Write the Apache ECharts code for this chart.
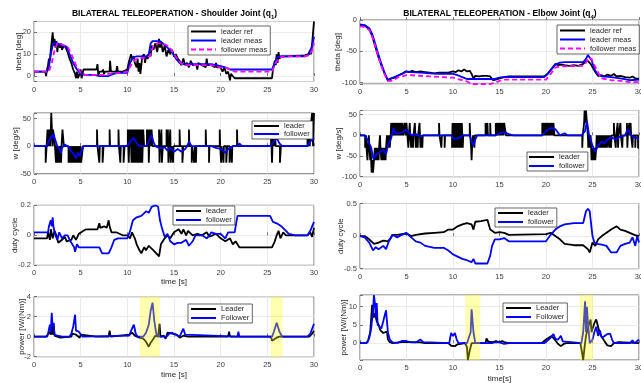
<!DOCTYPE html>
<html><head><meta charset="utf-8">
<script src="https://cdn.jsdelivr.net/npm/echarts@6/dist/echarts.min.js"></script>
<style>html,body{margin:0;padding:0;background:#fff}#c{width:641px;height:383px}</style>
</head><body><div id="c"></div><script>
// ---------- DATA ----------
const timeTicks = [0, 5, 10, 15, 20, 25, 30];
// Shoulder theta [deg]
const thL_ref = [[0,2],[1.2,2],[1.3,0],[1.35,2],[1.5,5],[1.6,8],[1.7,7],[1.8,12],[1.9,16],[2.0,20],[2.1,14],[2.2,17],[2.3,13],[2.4,16],[2.5,11],[2.6,15],[2.8,13],[2.9,15],[3.0,12],[3.2,14],[3.4,13],[3.6,11],[3.8,8],[4.0,6],[4.2,3],[4.4,1],[4.5,-1],[4.6,2],[4.7,-1],[4.8,0],[5.0,3],[5.1,-1],[5.3,3],[6.7,3],[6.8,5.5],[6.9,0],[7.0,2],[7.3,2],[7.4,3],[7.5,1],[7.6,2],[8.1,2],[8.15,7],[8.25,2],[8.8,2],[8.9,4.5],[9.0,2],[9.5,2],[10.0,3],[10.2,7],[10.4,10],[10.5,8],[10.7,9],[10.8,6],[11.0,4],[11.1,8],[11.2,2],[11.3,6],[11.4,1],[11.5,5],[11.6,9],[11.8,10],[11.9,6],[12.0,9],[12.2,8],[12.4,11],[12.5,9],[12.6,14],[12.8,12],[13.0,15],[13.2,11],[13.4,17],[13.5,13],[13.6,16],[13.8,11],[14.0,14],[14.2,9],[14.4,12],[14.6,10],[14.8,12],[15.0,9],[15.2,10],[15.4,8],[15.6,7],[15.8,5],[16.0,8],[16.2,5],[16.4,6],[16.6,4],[16.8,7],[17.0,5],[17.4,5],[17.5,3],[17.6,6],[18.0,5],[18.4,4],[18.5,8],[18.6,5],[19.0,5],[19.4,4],[19.5,6],[19.6,4],[20.0,4],[20.2,2],[20.4,4],[20.6,1],[20.8,2],[21.0,-2],[21.1,1],[21.5,-1],[25.5,-1],[25.6,3],[25.8,7],[25.9,5],[26.0,10],[26.1,6],[26.2,11],[26.3,8],[26.5,9],[27,9],[29,9.5],[29.4,10],[29.6,12],[29.7,10],[29.8,15],[29.9,20],[30,25]];
const thL_lm = [[0,2],[1.4,2],[1.6,4],[1.8,10],[2.0,14],[2.2,15.5],[2.5,15],[3.0,14],[3.5,13.5],[3.8,10],[4.2,6],[4.6,3],[5.0,1],[5.5,0.5],[6.5,0.5],[7,0],[8,0],[8.5,1],[9,1.5],[10,1.5],[10.3,6],[10.6,8.5],[11,9],[12,9],[12.3,10],[12.5,15],[12.7,16],[13.5,16],[13.8,15],[14.2,13.5],[14.8,11],[15.2,8],[15.6,6],[16,5.5],[19,5.5],[20,4.5],[20.5,4],[21,3],[25.5,3],[25.8,6],[26,8.5],[26.3,9],[29,9],[29.5,10],[29.8,14],[30,18]];
const thL_fm = [[0,2],[1.6,2],[1.9,6],[2.2,12],[2.5,15],[3,14.5],[3.6,13.5],[4,10],[4.5,5],[5,1.5],[5.5,0.5],[7.5,0.5],[8,1],[9.5,1.5],[10,2],[10.4,5],[10.8,7.5],[11.2,8],[12,8.5],[12.4,9],[12.8,14],[13.2,15],[13.8,15],[14.5,13.5],[15,10],[15.5,7],[16,5],[19,5],[20,4],[20.8,3.5],[21.5,2],[25.5,2],[25.9,6],[26.3,8.5],[27,9],[29,9],[29.5,9.5],[29.8,12],[30,15]];
// Elbow theta [deg]
const thR_ref = [[0,-8],[0.5,-9],[1.0,-15],[1.3,-25],[1.5,-35],[1.8,-50],[2.0,-60],[2.3,-72],[2.5,-80],[2.8,-90],[3.0,-97],[3.1,-100],[3.2,-95],[3.4,-93],[3.6,-91],[3.8,-92],[4.0,-89],[4.3,-87],[4.6,-85],[4.9,-82],[5.0,-80],[5.3,-83],[5.6,-81],[6.0,-83],[6.5,-82],[7.0,-83],[7.5,-84],[8.0,-85],[8.5,-84],[9.5,-84],[10.0,-82],[10.3,-83],[10.6,-80],[10.9,-82],[11.2,-79],[11.5,-82],[11.8,-81],[12.0,-86],[12.2,-93],[12.4,-89],[12.8,-90],[13.2,-89],[13.6,-89],[14.0,-90],[14.3,-96],[14.6,-95],[15.0,-93],[15.5,-91],[16.0,-90],[19.8,-90],[20.2,-85],[20.6,-78],[21.0,-70],[21.3,-72],[21.6,-71],[22,-72],[22.5,-73],[23,-72],[23.5,-73],[24.0,-70],[24.2,-68],[24.4,-64],[24.6,-66],[24.8,-70],[25.0,-72],[25.3,-83],[25.6,-89],[26.0,-88],[26.3,-90],[26.6,-87],[27.0,-89],[27.3,-86],[27.6,-90],[28.0,-89],[28.5,-91],[29.0,-92],[29.3,-90],[29.6,-93],[30,-94]];
const thR_lm = [[0,-7],[0.5,-8],[1.0,-13],[1.3,-22],[1.5,-31],[1.8,-46],[2.0,-56],[2.3,-70],[2.5,-78],[2.8,-90],[3.0,-95],[3.2,-97],[3.5,-92],[4.0,-89],[4.5,-86],[5.0,-82],[5.5,-83],[6.5,-84],[7.5,-85],[8.5,-86],[10.0,-86],[10.5,-88],[11.0,-91],[11.5,-94],[14.5,-94],[15.0,-92],[15.5,-91],[19.8,-91],[20.2,-86],[20.6,-78],[21.0,-71],[21.5,-68],[22.0,-67],[24.0,-67],[24.3,-62],[24.5,-56],[24.7,-58],[24.9,-64],[25.2,-78],[25.5,-86],[26.0,-90],[27.0,-91],[28.0,-93],[29.0,-96],[30,-95]];
const thR_fm = [[0,-10],[0.5,-11],[1.0,-16],[1.3,-26],[1.5,-35],[1.8,-50],[2.0,-60],[2.3,-74],[2.5,-82],[2.8,-92],[3.0,-97],[3.5,-97],[4.0,-92],[4.5,-90],[5.0,-88],[5.5,-88],[7.5,-90],[10.0,-92],[11.0,-96],[11.5,-98],[12.0,-102],[14.0,-102],[14.5,-100],[15.0,-97],[15.5,-95],[20.0,-95],[20.5,-86],[21.0,-76],[21.5,-74],[24.0,-73],[24.3,-68],[24.6,-60],[24.9,-62],[25.2,-72],[25.7,-86],[26.0,-93],[27.0,-96],[28.0,-97],[29.0,-99],[30,-99]];
// Shoulder w [deg/s] (leader is a held/step signal)
const wL_lead = [[0,0],[1.25,-30],[1.35,0],[1.45,30],[1.55,0],[1.6,30],[1.75,0],[1.8,30],[1.85,60],[1.92,30],[2.0,0],[2.05,30],[2.25,0],[2.35,-30],[2.45,0],[2.55,-30],[2.6,0],[2.7,-30],[2.8,0],[2.9,-30],[2.95,0],[3.05,30],[3.2,0],[3.7,-30],[3.8,0],[3.9,-30],[3.95,0],[4.0,-30],[4.1,0],[4.15,-30],[4.25,0],[4.3,-30],[4.4,0],[4.45,-30],[4.55,0],[4.6,-30],[4.7,0],[4.75,-30],[4.85,0],[4.9,-30],[5.0,0],[5.05,-30],[5.25,0],[6.75,30],[6.8,0],[7.0,-30],[7.05,0],[7.35,-30],[7.45,0],[8.1,30],[8.15,0],[9.05,30],[9.1,0],[9.25,-30],[9.3,0],[9.6,-30],[9.7,0],[10.05,30],[10.15,-30],[10.25,30],[10.3,0],[10.35,30],[10.45,-30],[10.55,30],[10.65,-30],[10.75,30],[10.85,-30],[10.95,30],[11.05,-30],[11.1,30],[11.2,-30],[11.3,30],[11.4,-30],[11.5,30],[11.6,-30],[11.7,30],[11.8,0],[12.1,30],[12.15,0],[12.25,30],[12.3,-30],[12.4,30],[12.5,0],[12.6,30],[12.7,0],[13.4,30],[13.45,-30],[13.5,0],[13.65,30],[13.7,-30],[13.8,0],[14.2,30],[14.25,0],[14.35,30],[14.4,-30],[14.5,0],[14.6,30],[14.65,-30],[14.75,0],[14.9,-30],[14.95,0],[15.6,30],[15.65,0],[15.9,-30],[16.0,0],[16.6,30],[16.65,0],[16.9,-30],[16.95,0],[17.15,-30],[17.25,0],[17.35,-30],[17.4,0],[18.4,30],[18.45,0],[18.75,-30],[18.8,0],[19.9,30],[19.95,0],[20.05,-30],[20.1,0],[20.3,-30],[20.35,0],[20.6,-30],[20.7,0],[20.95,-30],[21.0,0],[21.2,-30],[21.25,0],[21.75,30],[21.8,0],[25.4,30],[25.5,-30],[25.6,30],[25.7,0],[25.8,30],[25.9,0],[26.35,-30],[26.45,0],[29.3,30],[29.35,0],[29.45,30],[29.55,0],[29.6,30],[29.8,60],[29.85,30],[29.9,0],[29.95,30],[30,60]];
const wL_fol = [[0,0],[1.4,0],[1.6,10],[1.8,15],[1.9,20],[2.0,14],[2.1,22],[2.3,10],[2.5,0],[2.7,-5],[2.9,-12],[3.0,-3],[3.3,3],[3.5,0],[3.8,-3],[4.0,-10],[4.3,-15],[4.5,-22],[4.7,-12],[4.9,-18],[5.1,-8],[5.3,0],[8.1,0],[8.3,3],[8.5,0],[9.4,0],[9.6,3],[9.8,0],[10.1,2],[10.3,8],[10.7,15],[11.0,5],[11.3,0],[12.0,0],[12.2,5],[12.6,20],[12.8,8],[13.0,0],[13.5,-4],[14.0,-2],[14.3,-8],[14.6,-3],[15.0,-10],[15.4,-5],[15.8,-10],[16.2,-5],[16.4,0],[16.6,8],[16.9,0],[18.4,0],[18.6,3],[19.0,0],[19.5,-3],[20.0,-5],[20.5,-12],[20.8,-5],[21.3,0],[21.8,0],[22.0,5],[22.3,0],[25.3,0],[25.7,8],[26.0,15],[26.3,5],[26.6,0],[29.3,0],[29.6,8],[30,15]];
// Elbow w [deg/s]
const wR_lead = [[0,0],[0.55,-30],[0.65,0],[0.7,-30],[0.8,-60],[0.85,-30],[0.95,0],[1.0,-30],[1.1,-60],[1.15,-30],[1.25,-90],[1.35,-60],[1.4,-90],[1.5,-60],[1.6,-30],[1.7,-60],[1.75,-30],[1.85,-60],[1.9,-30],[2.0,-60],[2.05,-30],[2.15,0],[2.2,-30],[2.3,-60],[2.35,-30],[2.45,-60],[2.5,-30],[2.6,-60],[2.65,-30],[2.75,-60],[2.8,-30],[2.9,0],[3.0,-30],[3.1,0],[3.2,-30],[3.3,0],[3.35,30],[3.45,0],[3.5,30],[3.6,0],[3.65,30],[3.75,0],[3.8,30],[3.9,0],[3.95,30],[4.05,0],[4.1,30],[4.2,0],[4.25,30],[4.35,0],[4.4,30],[4.5,0],[4.55,30],[4.65,0],[4.8,30],[4.9,0],[5.0,30],[5.1,0],[5.2,-30],[5.25,0],[5.35,30],[5.4,0],[5.5,-30],[5.55,0],[5.7,-30],[5.75,0],[5.9,30],[5.95,0],[6.0,-30],[6.05,0],[6.2,-30],[6.25,0],[6.4,30],[6.45,0],[6.5,-30],[6.55,0],[6.7,-30],[6.75,0],[8.5,30],[8.55,0],[8.75,-30],[8.8,0],[9.1,-30],[9.15,0],[9.9,-30],[9.95,30],[10.05,-30],[10.15,30],[10.25,-30],[10.35,30],[10.45,-30],[10.55,30],[10.65,-30],[10.75,30],[10.85,-30],[10.95,30],[11.05,-30],[11.1,0],[11.8,30],[11.85,0],[11.95,-30],[12.0,-60],[12.05,-30],[12.15,0],[12.3,-30],[12.35,0],[13.5,30],[13.55,0],[13.7,30],[13.75,0],[14.0,30],[14.05,0],[14.6,30],[14.7,0],[14.75,30],[14.85,0],[14.9,30],[15.0,0],[15.05,30],[15.15,0],[15.2,30],[15.3,0],[15.35,30],[15.45,0],[15.5,30],[15.7,0],[19.6,30],[19.7,0],[19.75,30],[19.85,0],[19.9,30],[20.0,0],[20.05,30],[20.15,0],[20.2,30],[20.3,0],[20.35,30],[20.45,0],[20.5,30],[20.6,0],[20.65,30],[20.75,0],[20.8,30],[20.9,0],[23.9,-30],[23.95,0],[24.1,30],[24.15,60],[24.25,30],[24.3,60],[24.4,30],[24.5,0],[24.55,-30],[24.6,0],[24.7,-30],[24.8,0],[24.85,-30],[24.9,-60],[25.0,-30],[25.1,-60],[25.2,-30],[25.3,-60],[25.4,-30],[25.45,0],[25.6,-30],[25.65,0],[25.75,-30],[25.85,0],[25.95,-30],[26.05,0],[26.15,-30],[26.25,0],[26.35,-30],[26.45,0],[26.55,-30],[26.65,0],[26.8,-30],[26.85,0],[27.0,-30],[27.05,0],[27.3,30],[27.35,0],[27.5,-30],[27.55,0],[27.7,30],[27.75,-30],[27.8,0],[28.0,30],[28.05,0],[28.2,-30],[28.25,0],[28.7,30],[28.75,-30],[28.8,0],[28.95,30],[29.0,0],[29.1,30],[29.15,0],[29.3,-30],[29.35,0],[29.6,-30],[29.65,0],[29.9,-30],[30,-30]];
const wR_fol = [[0,0],[0.5,0],[0.8,-10],[1.2,-30],[1.45,-58],[1.8,-45],[2.2,-40],[2.5,-35],[2.8,-45],[3.0,-25],[3.3,-10],[3.5,5],[3.6,18],[3.8,5],[4.2,5],[4.6,8],[5.0,14],[5.3,5],[5.6,0],[6.0,3],[6.5,-3],[6.8,0],[9.8,0],[10.0,-8],[10.4,-8],[10.8,-5],[11.0,0],[11.8,0],[12.0,-15],[12.2,-25],[12.4,-10],[12.6,0],[14.6,0],[15.0,5],[15.5,8],[16.0,3],[16.5,0],[19.6,0],[20.0,10],[20.5,18],[21.0,15],[21.5,0],[22.0,5],[22.3,0],[23.8,0],[24.2,10],[24.4,35],[24.6,5],[24.8,-10],[25.0,-25],[25.3,-40],[25.6,-25],[26.0,-15],[26.3,-20],[26.6,-10],[27.0,-5],[27.5,-10],[28.0,-3],[28.5,0],[28.8,15],[29.1,0],[29.5,-5],[30,-8]];
// Shoulder duty cycle
const dL_lead = [[0,-0.02],[1.4,-0.02],[1.5,0.02],[1.7,-0.03],[1.8,0.04],[2.0,-0.02],[2.2,0.03],[2.4,0.0],[2.6,-0.05],[3.0,-0.03],[3.3,-0.01],[3.5,-0.04],[4.0,-0.03],[4.2,0.0],[4.5,-0.03],[4.8,0.01],[5.0,0.02],[5.3,0.03],[5.6,0.04],[6.8,0.04],[7.0,0.08],[7.1,0.05],[7.5,0.06],[7.8,0.05],[8.0,0.1],[8.1,0.06],[8.3,0.02],[8.8,0.02],[9.0,0.01],[9.5,0.0],[10,0.0],[10.3,-0.02],[10.5,0.02],[10.8,-0.02],[11,-0.06],[11.3,-0.1],[11.5,-0.12],[11.8,-0.08],[12,-0.1],[12.3,-0.07],[12.5,-0.08],[12.8,-0.1],[13.1,-0.12],[13.4,-0.14],[13.6,-0.06],[14,-0.02],[14.3,0.0],[14.6,-0.02],[15,0.02],[15.5,0.04],[15.8,0.01],[16,0.04],[16.3,0.0],[16.5,0.03],[17,0.0],[17.5,0.01],[18,0.0],[18.5,0.02],[18.8,-0.01],[19,0.0],[19.5,0.01],[20,-0.02],[20.5,-0.04],[21,-0.02],[21.3,-0.06],[21.6,-0.04],[22,-0.08],[25.5,-0.08],[25.8,-0.04],[26,0.0],[26.2,0.03],[26.4,-0.02],[26.7,0.02],[27,0.0],[29.3,0.0],[29.6,0.02],[29.8,-0.01],[30,0.05]];
const dL_fol = [[0,0.02],[1.5,0.02],[1.6,0.06],[1.8,0.1],[1.9,0.06],[2.0,0.12],[2.1,0.05],[2.3,0.0],[2.5,-0.03],[2.7,0.02],[3,-0.02],[3.3,0.0],[3.6,0.0],[3.9,-0.04],[4.1,-0.06],[4.3,-0.08],[4.4,-0.11],[4.6,-0.06],[4.8,-0.08],[5.0,-0.07],[5.2,-0.08],[7.0,-0.08],[7.3,-0.12],[8.0,-0.12],[8.3,-0.08],[8.6,-0.03],[9,-0.02],[10,-0.02],[10.3,0.03],[10.6,0.1],[11,0.12],[11.5,0.13],[12,0.16],[12.3,0.15],[12.6,0.19],[13,0.2],[13.3,0.19],[13.5,0.1],[13.7,0.05],[14.0,-0.01],[14.3,0.01],[14.6,-0.04],[15,-0.06],[15.4,-0.05],[15.8,-0.05],[16.3,-0.03],[16.6,-0.07],[17,-0.04],[17.3,0.0],[18,0.0],[18.5,-0.02],[18.8,0.0],[19,0.02],[19.5,0.01],[20,0.01],[20.5,-0.02],[20.8,0.02],[21.5,0.02],[21.8,0.13],[25.3,0.13],[25.6,0.09],[26,0.08],[26.5,0.06],[27,0.03],[27.3,0.01],[28,0.0],[29.3,0.0],[29.6,0.03],[29.8,0.06],[30,0.09]];
// Elbow duty cycle
const dR_lead = [[0,0],[0.5,0],[1.0,-0.05],[1.5,-0.12],[2.0,-0.1],[2.5,-0.07],[3,-0.08],[3.3,-0.03],[3.5,0.02],[4,0.02],[5,0.04],[5.5,0.0],[6.0,0.02],[7,0.04],[8,0.05],[9,0.06],[9.5,0.1],[10,0.1],[10.5,0.15],[11,0.18],[11.5,0.2],[12,0.18],[12.2,0.1],[12.4,0.22],[13,0.23],[13.7,0.25],[14,0.1],[14.5,0.05],[15,0.06],[15.5,0.05],[16,0.02],[20,0.03],[20.5,0.05],[21,0.0],[21.5,-0.05],[22,-0.12],[23,-0.14],[24,-0.14],[24.5,-0.2],[24.7,-0.25],[25,-0.1],[25.3,-0.15],[25.6,-0.05],[26,0.0],[26.5,0.05],[27,0.1],[27.6,0.15],[28,0.1],[28.5,0.08],[29,0.05],[29.5,0.02],[30,0.0]];
const dR_fol = [[0,0],[0.5,-0.02],[1.0,-0.1],[1.4,-0.22],[1.7,-0.17],[2.0,-0.2],[2.5,-0.15],[2.8,-0.2],[3.1,-0.08],[3.5,0.02],[4,-0.02],[4.5,0.02],[5,0.05],[5.5,-0.02],[6,-0.08],[6.5,-0.1],[7,-0.15],[8,-0.18],[9,-0.18],[9.5,-0.22],[10,-0.28],[11,-0.35],[11.5,-0.37],[12,-0.4],[12.2,-0.35],[12.4,-0.42],[13.7,-0.42],[14,-0.3],[14.2,-0.15],[14.5,-0.05],[15,-0.05],[15.5,-0.03],[16,-0.08],[20,-0.08],[20.5,0.02],[21,0.1],[21.5,0.15],[22,0.18],[23,0.2],[24,0.2],[24.3,0.38],[24.5,0.42],[24.7,0.38],[25,0.0],[25.2,-0.1],[25.5,-0.12],[26,-0.13],[26.5,-0.15],[27,-0.25],[27.6,-0.25],[28,-0.15],[28.5,-0.12],[29,-0.1],[29.3,-0.02],[29.6,-0.15],[29.8,0.0],[30,-0.1]];
// Shoulder power [W/(Nm)]
const pL_lead = [[0,0],[1.3,0],[1.35,-0.2],[1.45,0.2],[1.7,0.5],[1.8,0.2],[1.9,1.3],[2.0,0.2],[2.1,1.3],[2.2,0.1],[2.5,0],[2.8,-0.1],[3,0],[4.0,0],[4.1,0.3],[4.3,0.4],[4.5,0.2],[4.7,0.3],[4.9,-0.1],[5.0,0.2],[5.2,0],[6.7,0],[6.8,-0.2],[6.9,0],[8.0,0],[8.1,0.6],[8.2,0],[10.2,0.2],[10.5,0.4],[10.8,0.1],[11.0,0.0],[11.3,-0.1],[11.7,-0.2],[12.0,-0.5],[12.3,-1.0],[12.5,-0.6],[12.8,-0.2],[13.0,0.1],[13.3,0.0],[13.45,1.3],[13.55,0.0],[13.9,0.1],[14.1,-0.2],[14.3,0.4],[14.5,0.2],[14.8,0.3],[15.0,0.1],[15.3,0.2],[15.6,-0.1],[16,0.1],[16.2,-0.1],[16.5,0.0],[20.8,0.0],[20.9,0.5],[21.0,0.0],[25.4,0.0],[25.5,-0.4],[25.7,-0.2],[26.0,-0.1],[26.3,0.0],[29.5,0.0],[29.8,0.3],[30,0.6]];
const pL_fol = [[0,0],[1.4,0],[1.5,0.3],[1.7,1.2],[1.8,0.5],[1.9,2.4],[2.0,1.0],[2.1,1.4],[2.2,0.2],[2.5,0.1],[3,0.0],[3.8,0.0],[4.0,0.3],[4.2,1.0],[4.4,2.2],[4.5,0.6],[4.6,0.8],[4.8,0.5],[5.0,0.7],[5.2,0.0],[10.2,0.1],[10.5,0.8],[10.7,1.2],[10.9,0.3],[11.1,0.0],[11.7,0.0],[12.0,0.4],[12.3,1.2],[12.5,2.6],[12.7,3.4],[12.9,1.5],[13.1,0.3],[13.4,0.0],[14.2,0.0],[14.5,0.3],[14.8,0.4],[15.2,0.2],[15.6,0.0],[15.8,0.1],[16.0,0.8],[16.2,0.2],[16.4,0.0],[21.8,0.0],[21.9,0.5],[22,0.0],[25.5,0.0],[25.7,0.5],[26.0,1.4],[26.3,0.5],[26.6,0.0],[29.3,0.0],[29.6,0.3],[29.8,0.8],[30,1.3]];
// Elbow power [W/(Nm)]
const pR_lead = [[0,0],[0.7,0],[0.9,1],[1.1,3],[1.3,10.5],[1.45,7],[1.6,8.2],[1.8,6],[2.0,5],[2.2,3.5],[2.5,2.8],[2.7,2.5],[2.9,3.2],[3.0,1],[3.2,0.3],[3.5,0],[4.5,0.3],[5.5,0.3],[6.5,0.2],[7,0],[9.5,0],[9.8,-0.7],[10.2,-0.8],[10.5,-0.3],[10.7,0],[11.3,0],[11.5,-1],[11.6,-4.6],[11.8,-2],[12,0],[13.5,0],[13.6,1.3],[13.8,0.4],[14,0.9],[14.3,0.3],[14.6,0.6],[15,0.3],[15.3,0.6],[15.6,0.2],[16,0],[19.5,0],[20,1],[20.3,1.5],[20.6,2.0],[21.0,0.8],[21.3,-0.2],[21.6,-0.8],[21.9,-0.2],[22.2,0],[23.7,0],[23.9,-3],[24.0,-4.6],[24.15,-1],[24.3,2],[24.6,5],[24.8,6.5],[24.9,3],[25.0,4],[25.2,5.5],[25.4,6.5],[25.6,4.5],[25.8,2.5],[26.0,2],[26.3,0.5],[26.6,-0.6],[27,-0.8],[27.3,0],[27.8,0.3],[28,0],[30,0]];
const pR_fol = [[0,0],[0.5,0],[0.8,0.2],[1.0,1.5],[1.2,4],[1.4,9],[1.5,13.2],[1.6,11],[1.7,7],[1.8,11],[1.9,5],[2.1,5.5],[2.3,4],[2.5,6],[2.8,9],[3.0,3],[3.2,1],[3.5,0.2],[4,0.1],[4.5,0.6],[5,0.6],[5.5,0.2],[6,0.2],[6.5,1.0],[6.8,0.3],[7,0],[9.6,0],[9.7,1.5],[9.8,2.8],[10.0,2.0],[10.2,2.8],[10.4,1.0],[10.6,0.0],[11.5,0],[11.7,-0.3],[11.9,3],[12.0,9.3],[12.2,3],[12.4,0],[14.2,0],[14.5,0.3],[15,0.2],[15.5,-0.2],[16,0],[19.8,0],[20,0.4],[20.3,1.0],[20.6,1.8],[20.8,2.5],[21.0,1.2],[21.3,1.0],[21.6,2.0],[21.8,0.5],[22,0],[23.8,0],[24,3],[24.2,11.5],[24.3,3],[24.4,10],[24.5,6],[24.7,0],[25,1],[25.2,3],[25.4,4.5],[25.6,2.0],[25.8,3.5],[26.0,1.5],[26.3,2],[26.6,2.5],[26.9,2.6],[27.1,1.0],[27.3,0.0],[29,0],[29.3,0.8],[29.5,0.0],[30,1.0]];
// Highlighted time windows [s]
const hlLeft = [[11.36,13.49],[25.38,26.62]];
const hlRight = [[11.32,12.93],[23.64,25.07]];

// ---------- LAYOUT ----------
const FONT = "'Liberation Sans', Arial, Helvetica, sans-serif";
const panels = [
  {g:[34,21.5,280,60],   y:[-2.5,25,10],  yName:'theta [deg]',   ng:11.5},
  {g:[34,113,280,60.8],  y:[-50,60,50],   yName:'w [deg/s]',     ng:14.5},
  {g:[34,205.3,280,60],  y:[-0.2,0.2,0.2],yName:'duty cycle',    ng:15.5, xName:'time [s]', xng:12.5},
  {g:[34,296.7,280,60],  y:[-2,4,2],      yName:'power [W/(Nm)]',ng:8.5,  xName:'time [s]', xng:14},
  {g:[360,20,279,64],    y:[-102,0,50],   yName:'theta [deg]',   ng:18.5},
  {g:[360,110.5,279,66.2],y:[-100,60,50], yName:'w [deg/s]',     ng:17.5},
  {g:[360,203.5,279,65.2],y:[-0.5,0.5,0.5],yName:'duty cycle',   ng:15.5},
  {g:[360,295,279,65],   y:[-4.6,13.2,5], yName:'power [W/(Nm)]',ng:12.5, xName:'time[s]', xng:15}
];
const tickColor = '#262626', labelColor = '#404040', gridLineColor = '#e6e6e6';
function multFmt(step){
  return function(v){
    const r = v/step;
    if (Math.abs(r - Math.round(r)) > 1e-6) return '';
    const n = Math.round(r)*step;
    return String(Math.round(n*1000)/1000);
  };
}
const grids=[], xAxes=[], yAxes=[];
panels.forEach((p,i)=>{
  grids.push({left:p.g[0], top:p.g[1], width:p.g[2], height:p.g[3], show:true, borderColor:'#262626', borderWidth:0.7, backgroundColor:'#fff', containLabel:false, outerBoundsMode:'none'});
  xAxes.push({gridIndex:i, type:'value', min:timeTicks[0], max:timeTicks[timeTicks.length-1], interval:timeTicks[1]-timeTicks[0],
    axisLine:{show:false}, axisTick:{show:true, inside:true, length:3, lineStyle:{color:tickColor, width:0.6}},
    axisLabel:{fontSize:7.5, color:labelColor, margin:4, fontFamily:FONT},
    splitLine:{show:true, lineStyle:{color:gridLineColor, width:0.8}},
    name:p.xName||'', nameLocation:'middle', nameGap:p.xng||10, nameTextStyle:{fontSize:8, color:'#262626', fontFamily:FONT}});
  yAxes.push({gridIndex:i, type:'value', min:p.y[0], max:p.y[1], minInterval:p.y[2], maxInterval:p.y[2], splitNumber:3,
    axisLine:{show:false}, axisTick:{show:true, inside:true, length:3, lineStyle:{color:tickColor, width:0.6}},
    axisLabel:{fontSize:7.5, color:labelColor, margin:3, fontFamily:FONT, formatter:multFmt(p.y[2]), showMinLabel:true, showMaxLabel:true},
    splitLine:{show:true, lineStyle:{color:gridLineColor, width:0.8}},
    name:p.yName, nameLocation:'middle', nameRotate:90, nameGap:p.ng, nameMoveOverlap:false, nameTextStyle:{fontSize:8, color:'#262626', fontFamily:FONT}});
});

const STY = {
  k:{color:'#000000', width:1.8, type:'solid'},
  b:{color:'#0000ff', width:1.8, type:'solid'},
  m:{color:'#ff00ff', width:1.8, type:[5,3]}
};
function ln(gi, name, data, s, step){
  const st = STY[s];
  return {type:'line', name, xAxisIndex:gi, yAxisIndex:gi, data, step: step||false, symbol:'none', showSymbol:false,
    lineStyle:{color:st.color, width:st.width, type:st.type}, itemStyle:{color:st.color}, animation:false, z:3, silent:true};
}
const series = [
  ln(0,'leader ref',thL_ref,'k'), ln(0,'leader meas',thL_lm,'b'), ln(0,'follower meas',thL_fm,'m'),
  ln(1,'leader',wL_lead,'k','end'), ln(1,'follower',wL_fol,'b'),
  ln(2,'leader',dL_lead,'k'), ln(2,'follower',dL_fol,'b'),
  ln(3,'Leader',pL_lead,'k'), ln(3,'Follower',pL_fol,'b'),
  ln(4,'leader ref',thR_ref,'k'), ln(4,'leader meas',thR_lm,'b'), ln(4,'follower meas',thR_fm,'m'),
  ln(5,'leader',wR_lead,'k','end'), ln(5,'follower',wR_fol,'b'),
  ln(6,'leader',dR_lead,'k'), ln(6,'follower',dR_fol,'b'),
  ln(7,'Leader',pR_lead,'k'), ln(7,'Follower',pR_fol,'b')
];
function hl(gi, spans){
  return {type:'line', name:'hl'+gi, xAxisIndex:gi, yAxisIndex:gi, data:[], symbol:'none', z:10, animation:false, silent:true,
    markArea:{silent:true, z:10, itemStyle:{color:'rgba(255,255,0,0.32)'}, data:spans.map(s=>[{xAxis:s[0]},{xAxis:s[1]}])}};
}
series.push(hl(3,hlLeft), hl(7,hlRight));

function lg(names, left, top, ih, gap, pad){
  return {data:names, left, top, orient:'vertical', itemWidth:25, itemHeight:ih, itemGap:gap, padding:pad,
    backgroundColor:'#fff', borderColor:'#262626', borderWidth:0.7, selectedMode:false,
    itemStyle:{opacity:0}, textStyle:{fontSize:7.5, color:'#262626', fontFamily:FONT}};
}
const legends = [
  lg(['leader ref','leader meas','follower meas'],188,26,9,1,[1.5,3,1.5,2]),
  lg(['leader','follower'],252,121,7,0,[1,3,1,1]),
  lg(['leader','follower'],173,206,9,1,[1,3,1,2]),
  lg(['Leader','Follower'],188,304,8,1,[1,3,1,2]),
  lg(['leader ref','leader meas','follower meas'],557,25,9,1,[1.5,3,1.5,2]),
  lg(['leader','follower'],527,152,7,1,[1,3,1,1]),
  lg(['leader','follower'],495,208,8,1,[1,3,1,2]),
  lg(['Leader','Follower'],503,303,8,1,[1,3,1,2])
];

const titleRich = {s:{fontSize:6, fontWeight:'bold', lineHeight:6, verticalAlign:'bottom', fontFamily:FONT}};
const graphic = [
  {type:'text', x:174.5, y:14, style:{text:'BILATERAL TELEOPERATION - Shoulder Joint (q{s|1})', fontSize:8.5, fontWeight:'bold', fontFamily:FONT, fill:'#000', align:'center', verticalAlign:'middle', lineHeight:12, rich:titleRich}},
  {type:'text', x:500, y:14, style:{text:'BILATERAL TELEOPERATION - Elbow Joint (q{s|4})', fontSize:8.5, fontWeight:'bold', fontFamily:FONT, fill:'#000', align:'center', verticalAlign:'middle', lineHeight:12, rich:titleRich}}
];

const chart = echarts.init(document.getElementById('c'), null, {renderer:'canvas'});
chart.setOption({backgroundColor:'#fff', animation:false, textStyle:{fontFamily:FONT},
  grid:grids, xAxis:xAxes, yAxis:yAxes, series, legend:legends, graphic});
</script></body></html>
